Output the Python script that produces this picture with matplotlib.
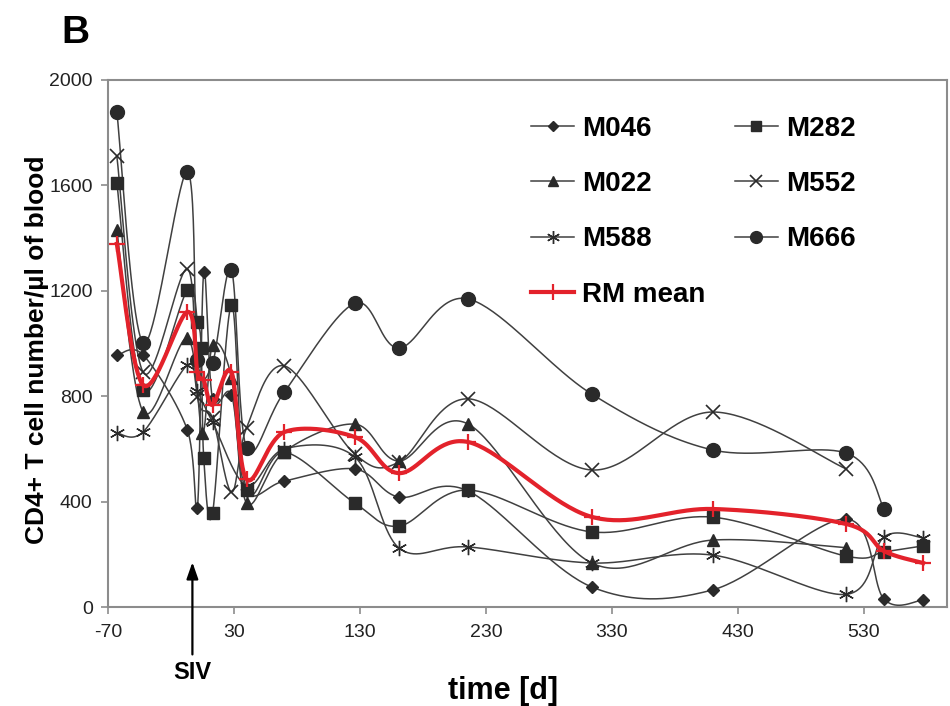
import numpy as np
import matplotlib
matplotlib.use("Agg")
import matplotlib.pyplot as plt
import matplotlib.transforms as mtransforms
from matplotlib.lines import Line2D

plt.rcParams['font.family'] = ['Liberation Sans', 'DejaVu Sans']
plt.rcParams['axes.unicode_minus'] = False

# days after infection and CD4+ counts
m046_days = [-63, -42, -7, 1, 6, 13, 28, 40, 70, 126, 161, 216, 314, 410, 516, 546, 577]
m046 = [955, 956, 672, 376, 1272, 790, 805, 440, 478, 524, 417, 440, 76, 65, 334, 30, 27]

m282_days = [-63, -42, -7, 1, 4, 6, 13, 28, 40, 70, 126, 161, 216, 314, 410, 516, 546, 577]
m282 = [1610, 824, 1203, 1082, 983, 565, 357, 1146, 444, 588, 394, 307, 444, 285, 341, 193, 209, 232]

m022_days = [-63, -42, -7, 5, 13, 28, 40, 70, 126, 161, 216, 314, 410, 516]
m022 = [1430, 740, 1021, 660, 994, 870, 395, 590, 694, 554, 694, 167, 254, 225]

m552_days = [-63, -42, -7, 1, 13, 28, 40, 70, 126, 161, 216, 314, 410, 516]
m552 = [1712, 890, 1283, 797, 717, 436, 680, 915, 580, 550, 790, 520, 740, 524]

m588_days = [-63, -42, -7, 1, 13, 40, 70, 126, 161, 216, 314, 410, 516, 546, 577]
m588 = [660, 665, 918, 820, 702, 460, 600, 569, 224, 228, 167, 197, 48, 266, 262]

m666_days = [-63, -42, -7, 1, 13, 28, 40, 70, 126, 161, 216, 314, 410, 516, 546]
m666 = [1880, 1002, 1652, 937, 926, 1279, 603, 816, 1153, 983, 1169, 808, 596, 584, 372]

mean_days = [-63, -42, -7, 1, 6, 13, 28, 40, 70, 126, 161, 216, 314, 410, 516, 546, 577]
rm_mean = [1378, 842, 1120, 890, 860, 767, 892, 485, 664, 645, 508, 626, 342, 372, 315, 212, 167]

x_ticks = [-70, 30, 130, 230, 330, 430, 530]
y_ticks = [0, 400, 800, 1200, 1600, 2000]


def smooth(x, y, n=40):
    # excel-like smoothed line: cubic bezier with catmull-rom control points
    pts = np.column_stack([x, y]).astype(float)
    out = [pts[0]]
    t = np.linspace(0, 1, n)[1:, None]
    for i in range(len(pts) - 1):
        p0 = pts[max(i - 1, 0)]
        p1 = pts[i]
        p2 = pts[i + 1]
        p3 = pts[min(i + 2, len(pts) - 1)]
        c1 = p1 + (p2 - p0) / 6
        c2 = p2 - (p3 - p1) / 6
        seg = (1 - t)**3 * p1 + 3 * (1 - t)**2 * t * c1 + 3 * (1 - t) * t**2 * c2 + t**3 * p2
        out.extend(seg)
    out = np.array(out)
    return out[:, 0], out[:, 1]


fig = plt.figure(figsize=(9.5, 7.06), dpi=100)
ax = fig.add_axes([108 / 950, 1 - 607 / 706, (947 - 108) / 950, (607 - 80) / 706])

line_col = '#404040'
mk_col = '#2a2a2a'
red = '#e3222b'

series = [
    ("M046", m046_days, m046, dict(marker='D', ms=6.5)),
    ("M282", m282_days, m282, dict(marker='s', ms=8.5)),
    ("M022", m022_days, m022, dict(marker='^', ms=9)),
    ("M552", m552_days, m552, dict(marker='x', ms=10, mew=1.2)),
    ("M588", m588_days, m588, dict(marker=(6, 2, 0), ms=11, mew=1.0)),
    ("M666", m666_days, m666, dict(marker='o', ms=10)),
]

handles = {}
for name, d, v, mk in series:
    sx, sy = smooth(d, v)
    ax.plot(sx, sy, color=line_col, lw=1.1, zorder=2)
    ax.plot(d, v, ls='none', color=mk_col, mfc=mk_col, mec=mk_col, zorder=3, **mk)
    handles[name] = Line2D([], [], color=line_col, lw=1.1, mfc=mk_col, mec=mk_col,
                           **{k: (val * 0.85 if k == 'ms' else val) for k, val in mk.items()})

sx, sy = smooth(mean_days, rm_mean)
ax.plot(sx, sy, color=red, lw=3, zorder=4)
ax.plot(mean_days, rm_mean, ls='none', marker='+', ms=11, mew=1.6, color=red, zorder=5)
handles["RM mean"] = Line2D([], [], color=red, lw=3, marker='+', ms=11, mew=1.6)

ax.set_xlim(-70, 596)
ax.set_ylim(0, 2000)
ax.set_xticks(x_ticks)
ax.set_yticks(y_ticks)
ax.tick_params(axis='both', labelsize=14, colors='#8c8c8c', labelcolor='#222222',
               length=5, width=1.2, direction='out')
ax.tick_params(axis='x', pad=7)
ax.tick_params(axis='y', pad=6)
for sp in ax.spines.values():
    sp.set_color('#8c8c8c')
    sp.set_linewidth(1.5)

ax.set_ylabel("CD4+ T cell number/µl of blood", fontsize=19, fontweight='bold')
ax.yaxis.set_label_coords(-0.07, 0.488)
ax.set_xlabel("time [d]", fontsize=22, fontweight='bold')
ax.xaxis.set_label_coords(0.471, -0.13)

order = ["M046", "M022", "M588", "RM mean", "M282", "M552", "M666"]
leg = ax.legend([handles[k] for k in order], order, ncol=2, loc='upper left',
                bbox_to_anchor=(531 / 950, 1 - 116 / 706), bbox_transform=fig.transFigure,
                frameon=False, borderpad=0, borderaxespad=0, handlelength=1.55,
                handletextpad=0.3, columnspacing=1.05, labelspacing=1.05,
                prop={'size': 20, 'weight': 'bold'})

# SIV infection arrow
trans = mtransforms.blended_transform_factory(ax.transData, ax.transAxes)
ax.annotate("", xy=(-3, 0.085), xycoords=trans, xytext=(-3, -0.09), textcoords=trans,
            arrowprops=dict(arrowstyle='-|>,head_length=1.0,head_width=0.35', color='black',
                            lw=1.6, shrinkA=0, shrinkB=0),
            annotation_clip=False)
ax.text(-3, -0.125, "SIV", transform=trans, ha='center', va='center',
        fontsize=17, fontweight='bold', clip_on=False)

fig.text(75 / 950, 1 - 33 / 706, "B", fontsize=28, fontweight='bold', ha='center', va='center')

fig.savefig("out.png", dpi=100)
